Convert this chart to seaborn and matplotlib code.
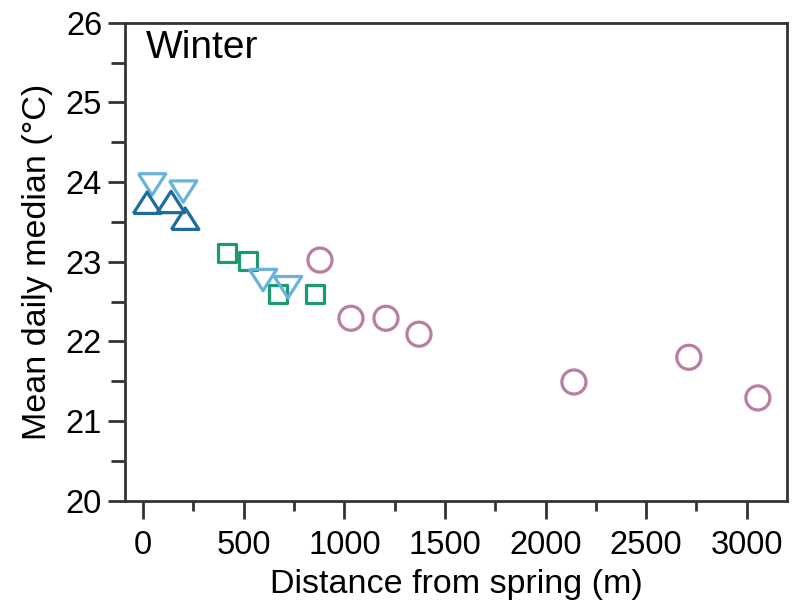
import matplotlib
matplotlib.use("Agg")
import matplotlib.pyplot as plt
from matplotlib.ticker import MultipleLocator
import seaborn as sns
import pandas as pd

# Site groups along the stream, distance from spring (m) and mean daily median (°C)
up_dist = [20, 139, 209]
up_temp = [23.74, 23.75, 23.54]

down_dist = [45, 199, 596, 720]
down_temp = [23.97, 23.88, 22.77, 22.68]

square_dist = [417, 522, 671, 854]
square_temp = [23.11, 23.01, 22.60, 22.60]

circle_dist = [879, 1033, 1207, 1371, 2141, 2712, 3055]
circle_temp = [23.02, 22.29, 22.29, 22.09, 21.49, 21.80, 21.29]

x_ticks = [0, 500, 1000, 1500, 2000, 2500, 3000]
y_ticks = [20, 21, 22, 23, 24, 25, 26]

sns.set_theme(style="ticks")
plt.rcParams["font.family"] = ["Liberation Sans", "DejaVu Sans"]
plt.rcParams["text.color"] = "black"
plt.rcParams["axes.labelcolor"] = "black"

fig = plt.figure(figsize=(7.97, 6.06), dpi=100)
ax = fig.add_axes([0.1568, 0.1738, 0.8307, 0.7887])

# flattened triangles
tri_up = [(-1.0, -0.78), (1.0, -0.78), (0.0, 0.78), (-1.0, -0.78)]
tri_down = [(-1.0, 0.78), (1.0, 0.78), (0.0, -0.78), (-1.0, 0.78)]

groups = [
    (circle_dist, circle_temp, "o", 300, "#b97ea3"),
    (square_dist, square_temp, "s", 170, "#1b9a72"),
    (down_dist, down_temp, tri_down, 390, "#68b3dc"),
    (up_dist, up_temp, tri_up, 390, "#1c6c9c"),
]

for xs, ys, marker, size, color in groups:
    df = pd.DataFrame({"dist": xs, "temp": ys})
    sns.scatterplot(data=df, x="dist", y="temp", marker=marker, s=size,
                    color=color, ax=ax, legend=False, zorder=3)
    coll = ax.collections[-1]
    coll.set_facecolor("none")
    coll.set_edgecolor(color)
    coll.set_linewidth(2.3)

ax.set_xlim(-90, 3200)
ax.set_ylim(20, 26)
ax.set_xticks(x_ticks)
ax.set_yticks(y_ticks)
ax.xaxis.set_minor_locator(MultipleLocator(250))
ax.yaxis.set_minor_locator(MultipleLocator(0.5))

for side in ["left", "right", "top", "bottom"]:
    ax.spines[side].set_visible(True)
    ax.spines[side].set_linewidth(2.0)
    ax.spines[side].set_color("#333333")

ax.tick_params(axis="x", which="major", length=13, width=2.0, color="#333333",
               labelsize=23.5, pad=8, labelcolor="black")
ax.tick_params(axis="x", which="minor", length=7, width=2.0, color="#333333")
ax.tick_params(axis="y", which="major", length=12.5, width=2.0, color="#333333",
               labelsize=23.5, pad=4, labelcolor="black")
ax.tick_params(axis="y", which="minor", length=10, width=2.0, color="#333333")

ax.set_xlabel("Distance from spring (m)", fontsize=24.5, labelpad=6)
ax.set_ylabel("Mean daily median (°C)", fontsize=24.5, labelpad=9)

ax.text(0.031, 0.985, "Winter", transform=ax.transAxes, fontsize=28,
        ha="left", va="top")

fig.savefig("out.png", dpi=100)
